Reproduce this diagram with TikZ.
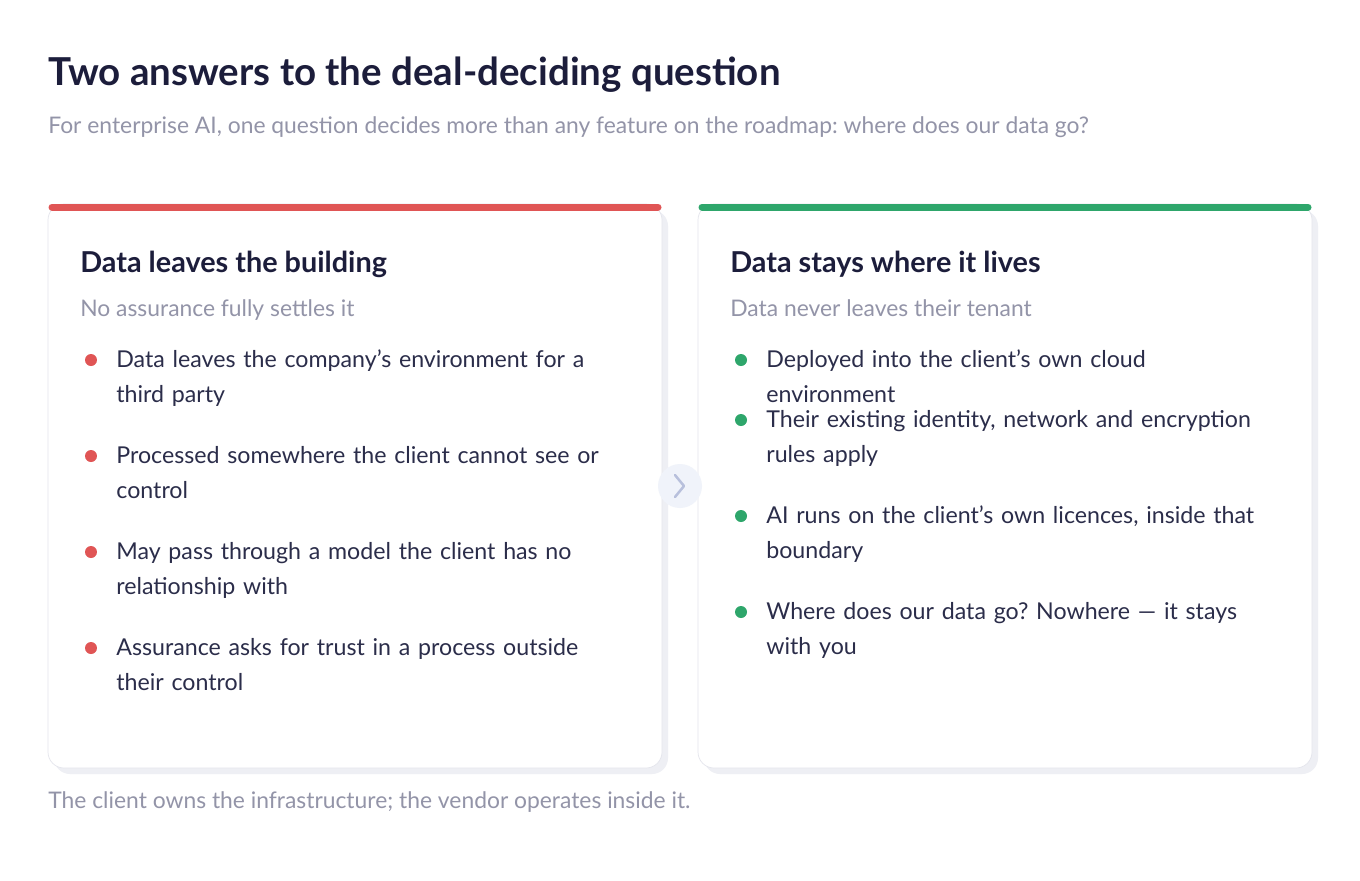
\documentclass[tikz,border=0pt]{standalone}
\usepackage{fontspec}
\setmainfont{Lato}
\usetikzlibrary{positioning}
\definecolor{ink}{HTML}{1C1D3B}
\definecolor{body}{HTML}{2B2D4A}
\definecolor{muted}{HTML}{9394A8}
\definecolor{warn}{HTML}{E05555}
\definecolor{okay}{HTML}{2EA66B}
\definecolor{edge}{HTML}{E4E5EC}
\definecolor{shadow}{HTML}{EEEFF4}
\definecolor{chev}{HTML}{F0F3FA}
\definecolor{chevline}{HTML}{B8C0DC}
\newcommand{\apos}{\char39\relax}
\tikzset{
  item/.style={anchor=base west, text width=10cm, align=left, inner sep=0pt,
    text=body, font=\fontsize{13.2}{20.4}\selectfont},
  dot/.style={circle, fill=#1, minimum size=0.24cm, inner sep=0pt},
  head/.style={anchor=base west, inner sep=0pt, text=ink, font=\fontsize{16.4}{19}\selectfont\bfseries},
  sub/.style={anchor=base west, inner sep=0pt, text=muted, font=\fontsize{13}{15}\selectfont}
}
\begin{document}
\hyphenpenalty=10000
\exhyphenpenalty=10000
\frenchspacing
\begin{tikzpicture}[x=0.02cm, y=-0.02cm]
\useasboundingbox[fill=white] (0,0) rectangle (1360,880);

% title
\node[anchor=base west, inner sep=0pt, text=ink, font=\fontsize{21.9}{26}\selectfont\bfseries] (title) at (48,85) {Two answers to the deal-deciding question};
\node[sub] (subtitle) at (48,133) {For enterprise AI, one question decides more than any feature on the roadmap: where does our data go?};

% cards
\fill[shadow, rounded corners=0.32cm] (54,210) rectangle (668,774);
\fill[shadow, rounded corners=0.32cm] (704,210) rectangle (1318,774);
\draw[edge, fill=white, rounded corners=0.32cm] (48,204) rectangle (662,768);
\draw[edge, fill=white, rounded corners=0.32cm] (698,204) rectangle (1312,768);
\draw[warn, line width=0.14cm, line cap=round] (52,207) -- (658,207);
\draw[okay, line width=0.14cm, line cap=round] (702,207) -- (1308,207);

% chevron
\node[circle, fill=chev, minimum size=0.88cm, inner sep=0pt] (arrow) at (680,486) {};
\draw[chevline, line width=0.05cm, line cap=round, line join=round] (675,475) -- (684,486) -- (675,497);

% left card
\node[head] (lhead) at (80,272) {Data leaves the building};
\node[sub] (lsub) at (80,316) {No assurance fully settles it};
\foreach \y/\t in {367/{Data leaves the company\apos s environment for a third party},
                   463/{Processed somewhere the client cannot see or control},
                   559/{May pass through a model the client has no relationship with},
                   655/{Assurance asks for trust in a process outside their control}} {
  \node[dot=warn] at (91,\y-7) {};
  \node[item] at (116,\y) {\t};
}

% right card
\node[head] (rhead) at (730,272) {Data stays where it lives};
\node[sub] (rsub) at (730,316) {Data never leaves their tenant};
\foreach \y/\t in {367/{Deployed into the client\apos s own cloud environment},
                   427/{Their existing identity, network and encryption rules apply},
                   523/{AI runs on the client\apos s own licences, inside that boundary},
                   619/{Where does our data go? Nowhere — it stays with you}} {
  \node[dot=okay] at (741,\y-7) {};
  \node[item] at (766,\y) {\t};
}

% footer
\node[sub] (note) at (48,808) {The client owns the infrastructure; the vendor operates inside it.};
\end{tikzpicture}
\end{document}
